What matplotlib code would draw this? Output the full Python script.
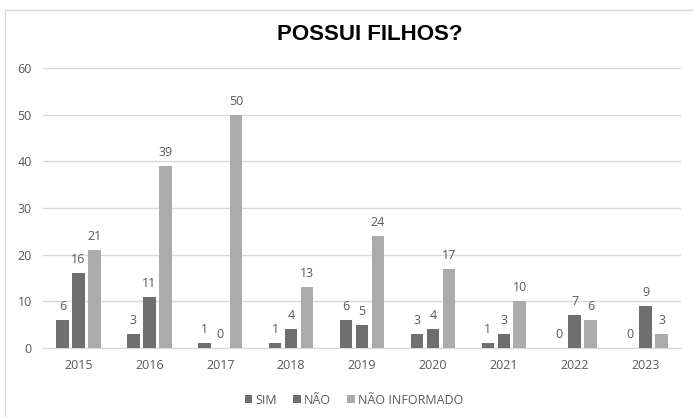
import numpy as np
import matplotlib
matplotlib.use("Agg")
import matplotlib.pyplot as plt
from matplotlib.patches import Rectangle

years = ["2015", "2016", "2017", "2018", "2019", "2020", "2021", "2022", "2023"]
sim = [6, 3, 1, 1, 6, 3, 1, 0, 0]
nao = [16, 11, 0, 4, 5, 4, 3, 7, 9]
nao_informado = [21, 39, 50, 13, 24, 17, 10, 6, 3]

series = [("SIM", sim, "#707070"),
          ("NÃO", nao, "#6e6e6e"),
          ("NÃO INFORMADO", nao_informado, "#ababab")]

plt.rcParams["font.family"] = ["Open Sans", "DejaVu Sans"]

fig = plt.figure(figsize=(6.94, 4.17), dpi=100)
# plot area: gridlines from x=43 to 681 px, y=0 at 348 px, y=60 at 68 px
ax = fig.add_axes([43 / 694, 1 - 348 / 417, (681 - 43) / 694, (348 - 68) / 417])

# light chart frame (left/top visible in the reference)
fig.patches.append(Rectangle((5 / 694, -0.05), 1.0, 1.05 - 10 / 417, transform=fig.transFigure,
                             fill=False, edgecolor="#d9d9d9", linewidth=1))

x = np.arange(len(years))
w = 0.177
offs = [-0.225, 0.0, 0.225]
for (name, vals, col), o in zip(series, offs):
    bars = ax.bar(x + o, vals, width=w, color=col, label=name, zorder=3)
    for b, v in zip(bars, vals):
        ax.annotate(str(v), (b.get_x() + b.get_width() / 2, v), xytext=(0, 5),
                    textcoords="offset points", ha="center", va="bottom",
                    fontsize=9, color="#595959")

ax.set_ylim(0, 60)
ax.set_yticks(range(0, 61, 10))
ax.set_xlim(-0.5, len(years) - 0.5)
ax.set_xticks(x)
ax.set_xticklabels(years)
ax.yaxis.grid(True, color="#d9d9d9", linewidth=1, zorder=0)
for s in ["top", "right", "left"]:
    ax.spines[s].set_visible(False)
ax.spines["bottom"].set_color("#d9d9d9")
ax.tick_params(length=0, labelsize=9, colors="#595959")
ax.tick_params(axis="x", pad=8)
ax.tick_params(axis="y", pad=8)

fig.text(370 / 694, 1 - 35 / 417, "POSSUI FILHOS?", ha="center", va="center",
         fontsize=16, fontweight="bold", family="Liberation Sans", color="#000000")

fig.legend(loc="center", bbox_to_anchor=(354 / 694, 1 - 400 / 417), ncol=3, frameon=False,
           fontsize=9, labelcolor="#595959", handlelength=0.6, handleheight=0.6,
           handletextpad=0.25, columnspacing=1.3)

fig.savefig("out.png", dpi=100)
